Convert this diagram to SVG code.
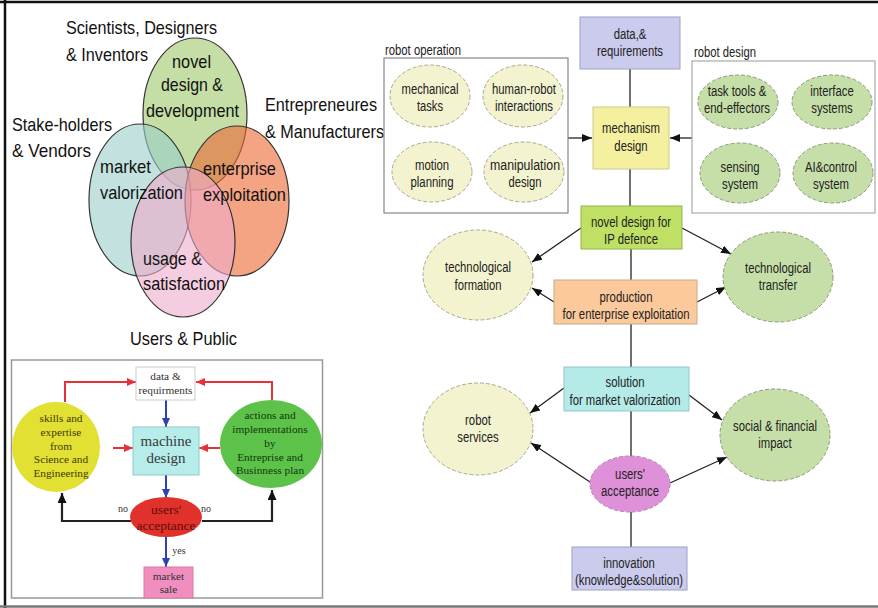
<svg xmlns="http://www.w3.org/2000/svg" width="878" height="608" viewBox="0 0 878 608">
<style>
.n{font-family:"Liberation Sans",Arial,sans-serif;}
.v{font-size:19px;fill:#111;}
.r{font-size:13.8px;fill:#222;text-anchor:middle;}
.lb{font-size:13.8px;fill:#222;}
.s{font-family:"Liberation Serif","Times New Roman",serif;text-anchor:middle;}
.ve{stroke:#333;stroke-width:1.2;fill-opacity:0.6;}
.ey{fill:#f3f3cf;stroke:#a8a890;stroke-width:1;stroke-dasharray:4 2;}
.eg{fill:#c6dfa9;stroke:#8a9a78;stroke-width:1;stroke-dasharray:4 2;}
.ln{stroke:#222;stroke-width:1.3;fill:none;}
.lnr{stroke:#e8303a;stroke-width:2;fill:none;}
.lnb{stroke:#3040b8;stroke-width:2;fill:none;}
.lnk{stroke:#222;stroke-width:2.2;fill:none;}
</style>
<defs>
<marker id="ak" markerUnits="userSpaceOnUse" markerWidth="10" markerHeight="8" refX="10" refY="4" orient="auto"><path d="M0,0 L10,4 L0,8 z" fill="#111"/></marker>
<marker id="ar" markerUnits="userSpaceOnUse" markerWidth="9" markerHeight="8" refX="9" refY="4" orient="auto"><path d="M0,0 L9,4 L0,8 z" fill="#e8303a"/></marker>
<marker id="ab" markerUnits="userSpaceOnUse" markerWidth="9" markerHeight="8" refX="9" refY="4" orient="auto"><path d="M0,0 L9,4 L0,8 z" fill="#3040b8"/></marker>
<marker id="ad" markerUnits="userSpaceOnUse" markerWidth="10" markerHeight="9" refX="10" refY="4.5" orient="auto"><path d="M0,0 L10,4.5 L0,9 z" fill="#111"/></marker>
</defs>
<rect x="0" y="0" width="878" height="608" fill="#fff"/>
<line x1="0" y1="2" x2="878" y2="2" stroke="#111" stroke-width="2.5"/>
<line x1="5" y1="0" x2="5" y2="608" stroke="#111" stroke-width="2.5"/>
<line x1="0" y1="606.5" x2="878" y2="606.5" stroke="#777" stroke-width="2.5"/>

<!-- Venn -->
<g id="venn">
<ellipse class="ve" cx="195" cy="114" rx="52" ry="76" fill="#9dc869"/>
<ellipse class="ve" cx="140" cy="200" rx="51" ry="76" fill="#9bcfca"/>
<ellipse class="ve" cx="237" cy="201" rx="52" ry="75" fill="#ed6630"/>
<ellipse class="ve" cx="183" cy="242" rx="52" ry="75" fill="#eeaccb"/>
<g class="n v">
<text x="66" y="34" textLength="151" lengthAdjust="spacingAndGlyphs">Scientists, Designers</text>
<text x="66" y="61" textLength="82" lengthAdjust="spacingAndGlyphs">&amp; Inventors</text>
<text x="265" y="111" textLength="112" lengthAdjust="spacingAndGlyphs">Entrepreneures</text>
<text x="265" y="138" textLength="119" lengthAdjust="spacingAndGlyphs">&amp; Manufacturers</text>
<text x="12" y="131" textLength="100" lengthAdjust="spacingAndGlyphs">Stake-holders</text>
<text x="12" y="157" textLength="79" lengthAdjust="spacingAndGlyphs">&amp;  Vendors</text>
<text x="130" y="345" textLength="107" lengthAdjust="spacingAndGlyphs">Users &amp; Public</text>
<text x="172" y="68" textLength="39" lengthAdjust="spacingAndGlyphs">novel</text>
<text x="161" y="91" textLength="62" lengthAdjust="spacingAndGlyphs">design &amp;</text>
<text x="146" y="117" textLength="93" lengthAdjust="spacingAndGlyphs">development</text>
<text x="100" y="173" textLength="51" lengthAdjust="spacingAndGlyphs">market</text>
<text x="100" y="199" textLength="83" lengthAdjust="spacingAndGlyphs">valorization</text>
<text x="203" y="175" textLength="73" lengthAdjust="spacingAndGlyphs">enterprise</text>
<text x="203" y="201" textLength="83" lengthAdjust="spacingAndGlyphs">exploitation</text>
<text x="143" y="265" textLength="59" lengthAdjust="spacingAndGlyphs">usage &amp;</text>
<text x="143" y="290" textLength="82" lengthAdjust="spacingAndGlyphs">satisfaction</text>
</g>
</g>

<!-- Bottom-left flowchart -->
<g id="flow">
<rect x="11.5" y="360" width="311" height="238" fill="#fff" stroke="#999" stroke-width="1.5"/>
<g id="bl-connectors">
<line class="lnb" x1="166" y1="400" x2="166" y2="427" marker-end="url(#ab)"/>
<line class="lnb" x1="166" y1="475" x2="166" y2="498" marker-end="url(#ab)"/>
<line class="lnb" x1="166" y1="537" x2="166" y2="567" marker-end="url(#ab)"/>
<line class="lnr" x1="113" y1="448" x2="133" y2="448" marker-end="url(#ar)"/>
<line class="lnr" x1="220" y1="448" x2="199" y2="448" marker-end="url(#ar)"/>
<polyline class="lnr" points="65,402 65,382 136,382" marker-end="url(#ar)"/>
<polyline class="lnr" points="272,400 272,382 196,382" marker-end="url(#ar)"/>
<polyline class="lnk" points="131,521 62,521 62,493" marker-end="url(#ad)"/>
<polyline class="lnk" points="202,521 272,521 272,490" marker-end="url(#ad)"/>
<text class="s" x="123" y="512" font-size="10" fill="#333">no</text>
<text class="s" x="206" y="512" font-size="10" fill="#333">no</text>
<text class="s" x="179" y="554" font-size="10" fill="#333">yes</text>
</g>
<g id="bl-data">
<rect x="136" y="367" width="59" height="33" fill="#fff" stroke="#ccc"/>
<text class="s" x="165.5" y="380" font-size="11.3" fill="#333">data &amp;</text>
<text class="s" x="165.5" y="394" font-size="11.3" fill="#333">requirments</text>
</g>
<g id="bl-machine">
<rect x="133" y="427" width="66" height="48" fill="#b6ecea" stroke="#8ccaca"/>
<text class="s" x="166" y="446" font-size="15" fill="#3a3a3a">machine</text>
<text class="s" x="166" y="463" font-size="15" fill="#3a3a3a">design</text>
</g>
<g id="bl-skills">
<ellipse cx="56" cy="447" rx="44" ry="45" fill="#e2e032"/>
<g class="s" font-size="11.3" fill="#3c3c08">
<text x="61" y="422">skills and</text>
<text x="61" y="436">expertise</text>
<text x="61" y="450">from</text>
<text x="61" y="463">Science and</text>
<text x="61" y="477">Engineering</text>
</g>
</g>
<g id="bl-actions">
<ellipse cx="271" cy="444" rx="51" ry="44" fill="#5dc24a"/>
<g class="s" font-size="11.3" fill="#10380a">
<text x="270" y="419">actions and</text>
<text x="270" y="433">implementations</text>
<text x="270" y="447">by</text>
<text x="270" y="461">Entreprise and</text>
<text x="270" y="474">Businness plan</text>
</g>
</g>
<g id="bl-users">
<ellipse cx="166" cy="517" rx="36" ry="20" fill="#e0322a"/>
<text class="s" x="166" y="514" font-size="13.5" fill="#5e0c0c">users'</text>
<text class="s" x="166" y="530" font-size="13.5" fill="#5e0c0c">acceptance</text>
</g>
<g id="bl-market">
<rect x="144" y="567" width="49" height="31" fill="#f08ec0" stroke="#d878a8"/>
<text class="s" x="168.5" y="580" font-size="11.3" fill="#333">market</text>
<text class="s" x="168.5" y="593" font-size="11.3" fill="#333">sale</text>
</g>
</g>

<!-- Right diagram connectors -->
<g id="connectors">
<line class="ln" x1="630" y1="69" x2="630" y2="107"/>
<line class="ln" x1="630" y1="169" x2="630" y2="206"/>
<line class="ln" x1="631" y1="249" x2="631" y2="280"/>
<line class="ln" x1="631" y1="324" x2="631" y2="367"/>
<line class="ln" x1="631" y1="411" x2="631" y2="457"/>
<line class="ln" x1="631" y1="512" x2="631" y2="547"/>
<line class="ln" x1="568" y1="138" x2="592" y2="138" marker-end="url(#ak)"/>
<line class="ln" x1="692" y1="138" x2="670" y2="138" marker-end="url(#ak)"/>
<line class="ln" x1="581" y1="228" x2="532" y2="262" marker-end="url(#ak)"/>
<line class="ln" x1="682" y1="228" x2="731" y2="254" marker-end="url(#ak)"/>
<line class="ln" x1="554" y1="302" x2="532" y2="288" marker-end="url(#ak)"/>
<line class="ln" x1="697" y1="302" x2="726" y2="287" marker-end="url(#ak)"/>
<line class="ln" x1="564" y1="388" x2="530" y2="413" marker-end="url(#ak)"/>
<line class="ln" x1="689" y1="395" x2="722" y2="420" marker-end="url(#ak)"/>
<line class="ln" x1="590" y1="482" x2="531" y2="443" marker-end="url(#ak)"/>
<line class="ln" x1="670" y1="483" x2="727" y2="457" marker-end="url(#ak)"/>
</g>

<g id="robot-operation">
<text class="n lb" x="385" y="55" textLength="76" lengthAdjust="spacingAndGlyphs">robot operation</text>
<rect x="384" y="58" width="184" height="155" fill="#fff" stroke="#888" stroke-width="1.2"/>
</g>
<g id="mechanical-tasks"><ellipse class="ey" cx="430" cy="96" rx="40" ry="31"/>
<text class="n r" x="430" y="94" textLength="57" lengthAdjust="spacingAndGlyphs">mechanical</text><text class="n r" x="430" y="111" textLength="26" lengthAdjust="spacingAndGlyphs">tasks</text></g>
<g id="human-robot"><ellipse class="ey" cx="523" cy="96" rx="40" ry="31"/>
<text class="n r" x="524" y="94" textLength="64" lengthAdjust="spacingAndGlyphs">human-robot</text><text class="n r" x="524" y="111" textLength="58" lengthAdjust="spacingAndGlyphs">interactions</text></g>
<g id="motion-planning"><ellipse class="ey" cx="432" cy="172" rx="40" ry="30"/>
<text class="n r" x="432" y="170" textLength="34" lengthAdjust="spacingAndGlyphs">motion</text><text class="n r" x="432" y="187" textLength="43" lengthAdjust="spacingAndGlyphs">planning</text></g>
<g id="manipulation-design"><ellipse class="ey" cx="524" cy="172" rx="40" ry="30"/>
<text class="n r" x="525" y="170" textLength="70" lengthAdjust="spacingAndGlyphs">manipulation</text><text class="n r" x="525" y="187" textLength="33" lengthAdjust="spacingAndGlyphs">design</text></g>

<g id="robot-design">
<text class="n lb" x="694" y="57" textLength="62" lengthAdjust="spacingAndGlyphs">robot design</text>
<rect x="692" y="61" width="183" height="152" fill="#fff" stroke="#aaa" stroke-width="1.2"/>
</g>
<g id="task-tools"><ellipse class="eg" cx="738" cy="102" rx="40" ry="27"/>
<text class="n r" x="737" y="96" textLength="58.5" lengthAdjust="spacingAndGlyphs">task tools &amp;</text><text class="n r" x="737" y="113" textLength="66" lengthAdjust="spacingAndGlyphs">end-effectors</text></g>
<g id="interface-systems"><ellipse class="eg" cx="832" cy="102" rx="40" ry="27"/>
<text class="n r" x="832" y="96" textLength="43.4" lengthAdjust="spacingAndGlyphs">interface</text><text class="n r" x="832" y="113" textLength="41.5" lengthAdjust="spacingAndGlyphs">systems</text></g>
<g id="sensing-system"><ellipse class="eg" cx="740" cy="173" rx="40" ry="30"/>
<text class="n r" x="740" y="172" textLength="39" lengthAdjust="spacingAndGlyphs">sensing</text><text class="n r" x="740" y="189" textLength="36" lengthAdjust="spacingAndGlyphs">system</text></g>
<g id="ai-control"><ellipse class="eg" cx="833" cy="173" rx="40" ry="30"/>
<text class="n r" x="831" y="172" textLength="52" lengthAdjust="spacingAndGlyphs">AI&amp;control</text><text class="n r" x="831" y="189" textLength="36" lengthAdjust="spacingAndGlyphs">system</text></g>

<g id="data-req"><rect x="580" y="17" width="100" height="52" fill="#cbcbee" stroke="#a0a0c4"/>
<text class="n r" x="630" y="39" textLength="32.7" lengthAdjust="spacingAndGlyphs">data,&amp;</text><text class="n r" x="630" y="56" textLength="66" lengthAdjust="spacingAndGlyphs">requirements</text></g>
<g id="mechanism-design"><rect x="593" y="107" width="76" height="62" fill="#f5f0a0" stroke="#cccc88"/>
<text class="n r" x="631" y="133" textLength="58" lengthAdjust="spacingAndGlyphs">mechanism</text><text class="n r" x="631" y="151" textLength="33.3" lengthAdjust="spacingAndGlyphs">design</text></g>
<g id="novel-design"><rect x="581" y="206" width="101" height="43" fill="#bfe065" stroke="#94b44a"/>
<text class="n r" x="631" y="227" textLength="80" lengthAdjust="spacingAndGlyphs">novel design for</text><text class="n r" x="631" y="244" textLength="54" lengthAdjust="spacingAndGlyphs">IP defence</text></g>
<g id="tech-formation"><ellipse class="ey" cx="478" cy="275" rx="55" ry="45"/>
<text class="n r" x="478" y="272" textLength="66" lengthAdjust="spacingAndGlyphs">technological</text><text class="n r" x="478" y="290" textLength="47" lengthAdjust="spacingAndGlyphs">formation</text></g>
<g id="tech-transfer"><ellipse class="eg" cx="778" cy="277" rx="55" ry="45"/>
<text class="n r" x="778" y="273" textLength="66" lengthAdjust="spacingAndGlyphs">technological</text><text class="n r" x="778" y="290" textLength="38.4" lengthAdjust="spacingAndGlyphs">transfer</text></g>
<g id="production"><rect x="554" y="280" width="143" height="44" fill="#fbc99b" stroke="#c8a888"/>
<text class="n r" x="626" y="302" textLength="53" lengthAdjust="spacingAndGlyphs">production</text><text class="n r" x="626" y="319" textLength="127" lengthAdjust="spacingAndGlyphs">for enterprise exploitation</text></g>
<g id="solution"><rect x="564" y="367" width="125" height="44" fill="#b4ebe8" stroke="#90c8c8"/>
<text class="n r" x="625" y="387" textLength="39" lengthAdjust="spacingAndGlyphs">solution</text><text class="n r" x="625" y="405" textLength="111" lengthAdjust="spacingAndGlyphs">for market valorization</text></g>
<g id="robot-services"><ellipse class="ey" cx="478" cy="429" rx="55" ry="46"/>
<text class="n r" x="478" y="425" textLength="25.8" lengthAdjust="spacingAndGlyphs">robot</text><text class="n r" x="478" y="442" textLength="41.5" lengthAdjust="spacingAndGlyphs">services</text></g>
<g id="social-impact"><ellipse class="eg" cx="775" cy="435" rx="55" ry="46"/>
<text class="n r" x="775" y="431" textLength="84" lengthAdjust="spacingAndGlyphs">social &amp; financial</text><text class="n r" x="775" y="448" textLength="33.3" lengthAdjust="spacingAndGlyphs">impact</text></g>
<g id="users-acceptance"><ellipse cx="630" cy="484" rx="40" ry="28" fill="#de90d8" stroke="#b878b4" stroke-width="1" stroke-dasharray="4 2"/>
<text class="n r" x="630" y="479" textLength="29.8" lengthAdjust="spacingAndGlyphs">users'</text><text class="n r" x="630" y="496" textLength="58" lengthAdjust="spacingAndGlyphs">acceptance</text></g>
<g id="innovation"><rect x="572" y="547" width="115" height="43" fill="#cbcbee" stroke="#a0a0c4"/>
<text class="n r" x="629" y="568" textLength="51.6" lengthAdjust="spacingAndGlyphs">innovation</text><text class="n r" x="629" y="585" textLength="108" lengthAdjust="spacingAndGlyphs">(knowledge&amp;solution)</text></g>
</svg>
